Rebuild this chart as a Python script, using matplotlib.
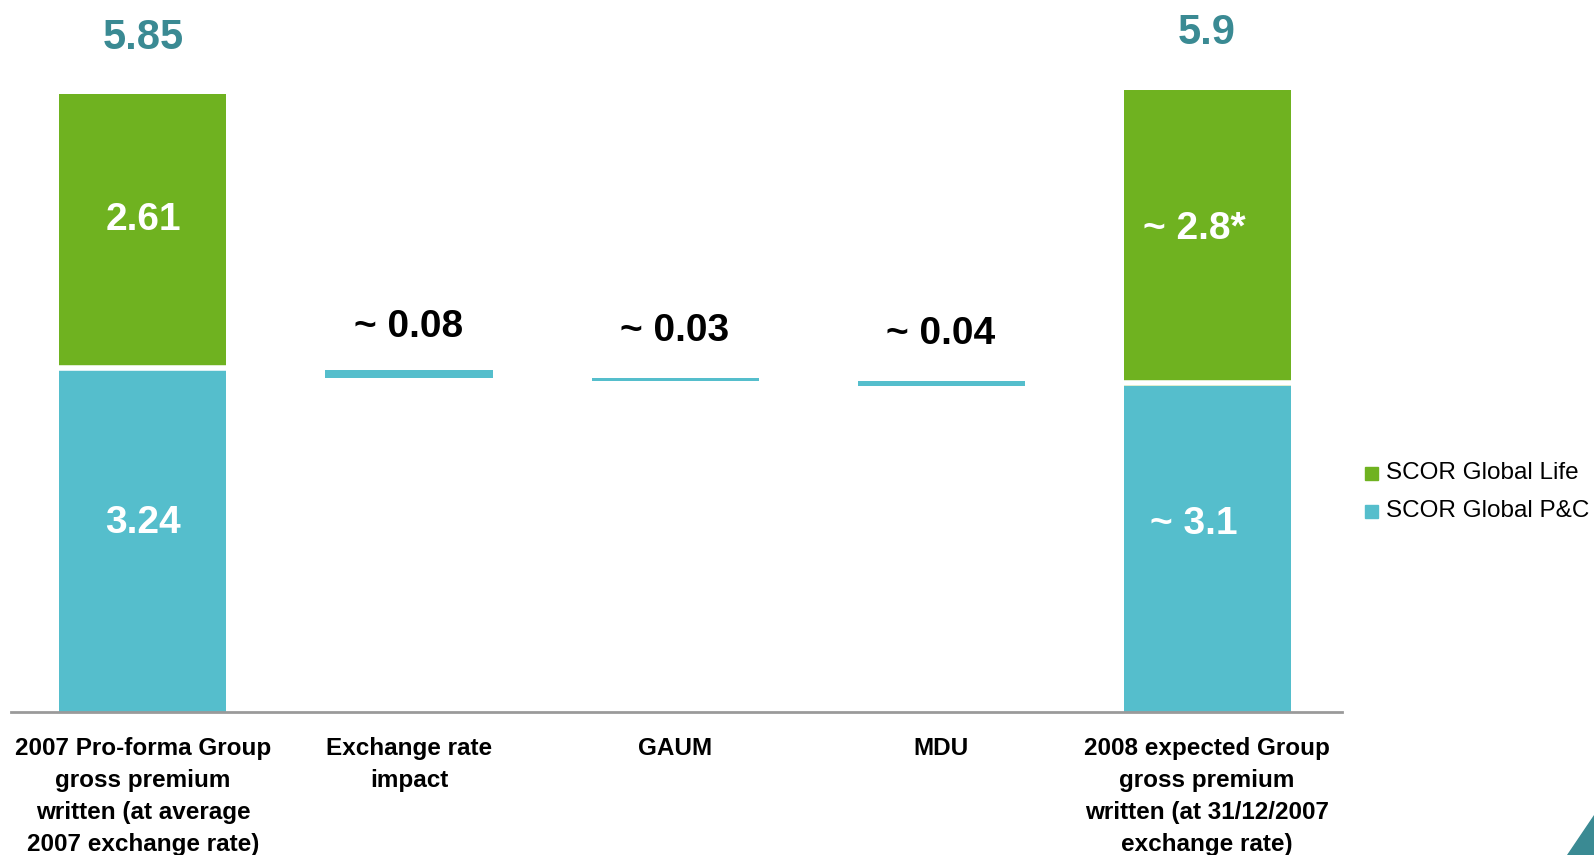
import matplotlib.pyplot as plt
from matplotlib.patches import Polygon

plt.rcParams['font.family'] = ['Liberation Sans', 'DejaVu Sans']

# data (EUR bn)
categories = ["2007 Pro-forma Group\ngross premium\nwritten (at average\n2007 exchange rate)",
              "Exchange rate\nimpact", "GAUM", "MDU",
              "2008 expected Group\ngross premium\nwritten (at 31/12/2007\nexchange rate)"]
pc_start, life_start = 3.24, 2.61
pc_end, life_end = 3.09, 2.80
deltas = [0.08, 0.03, 0.04]
delta_labels = ["~ 0.08", "~ 0.03", "~ 0.04"]
total_labels = ["5.85", "5.9"]
pc_labels = ["3.24", "~ 3.1"]
life_labels = ["2.61", "~ 2.8*"]

green = "#6fb220"
cyan = "#55becc"
teal = "#3a8a93"

fig = plt.figure(figsize=(15.94, 8.55), dpi=100)
ax = fig.add_axes([11 / 1594, 143 / 855, 1331 / 1594, 712 / 855])
ax.set_xlim(-0.496, 4.507)
ax.set_ylim(0, 6.74)
w = 0.628

# start and end stacked bars
ends = [0, 4]
pcs = [pc_start, pc_end]
lifes = [life_start, life_end]
life_off = [0.11, 0.08]
pc_off = [0.17, 0.23]
for i, x in enumerate(ends):
    ax.bar(x, pcs[i], width=w, color=cyan, linewidth=0)
    ax.bar(x, lifes[i], bottom=pcs[i], width=w, color=green, linewidth=0)
    # white separator between the two segments
    ax.plot([x - w / 2, x + w / 2], [pcs[i] + 0.02, pcs[i] + 0.02], color="white", lw=4,
            solid_capstyle="butt")
    ax.text(x, pcs[i] + lifes[i] + 0.535, total_labels[i], ha="center", va="center",
            fontsize=30, fontweight="bold", color=teal)
    dx = 0 if i == 0 else -0.05
    ax.text(x + dx, pcs[i] / 2 + pc_off[i], pc_labels[i], ha="center", va="center",
            fontsize=28, fontweight="bold", color="white")
    ax.text(x + dx, pcs[i] + lifes[i] / 2 + life_off[i], life_labels[i], ha="center", va="center",
            fontsize=28, fontweight="bold", color="white")

# floating delta bars
level = pc_start
label_off = [0.40, 0.45, 0.45]
for j, d in enumerate(deltas):
    x = j + 1
    ax.bar(x, d, bottom=level - d, width=w, color=cyan, linewidth=0)
    ax.text(x, level + label_off[j], delta_labels[j], ha="center", va="center",
            fontsize=28, fontweight="bold", color="black")
    level -= d

for s in ["top", "right", "left"]:
    ax.spines[s].set_visible(False)
ax.spines["bottom"].set_color("#9a9a9a")
ax.spines["bottom"].set_linewidth(2)
ax.set_yticks([])
ax.set_xticks(range(5))
ax.set_xticklabels(categories, fontsize=17.5, fontweight="bold", linespacing=1.5)
ax.tick_params(axis="x", length=0, pad=18)

# legend
fig.patches.append(plt.Rectangle((1365 / 1594, 1 - 480 / 855), 13 / 1594, 13 / 855,
                                 transform=fig.transFigure, color=green))
fig.patches.append(plt.Rectangle((1365 / 1594, 1 - 518 / 855), 13 / 1594, 13 / 855,
                                 transform=fig.transFigure, color=cyan))
fig.text(1386 / 1594, 1 - 473 / 855, "SCOR Global Life", fontsize=17.5, va="center")
fig.text(1386 / 1594, 1 - 511 / 855, "SCOR Global P&C", fontsize=17.5, va="center")

# corner decoration
fig.patches.append(Polygon([(1567 / 1594, 0), (1594 / 1594, 0), (1594 / 1594, 40 / 855)],
                           closed=True, transform=fig.transFigure, color=teal))

fig.savefig("out.png", dpi=100)
